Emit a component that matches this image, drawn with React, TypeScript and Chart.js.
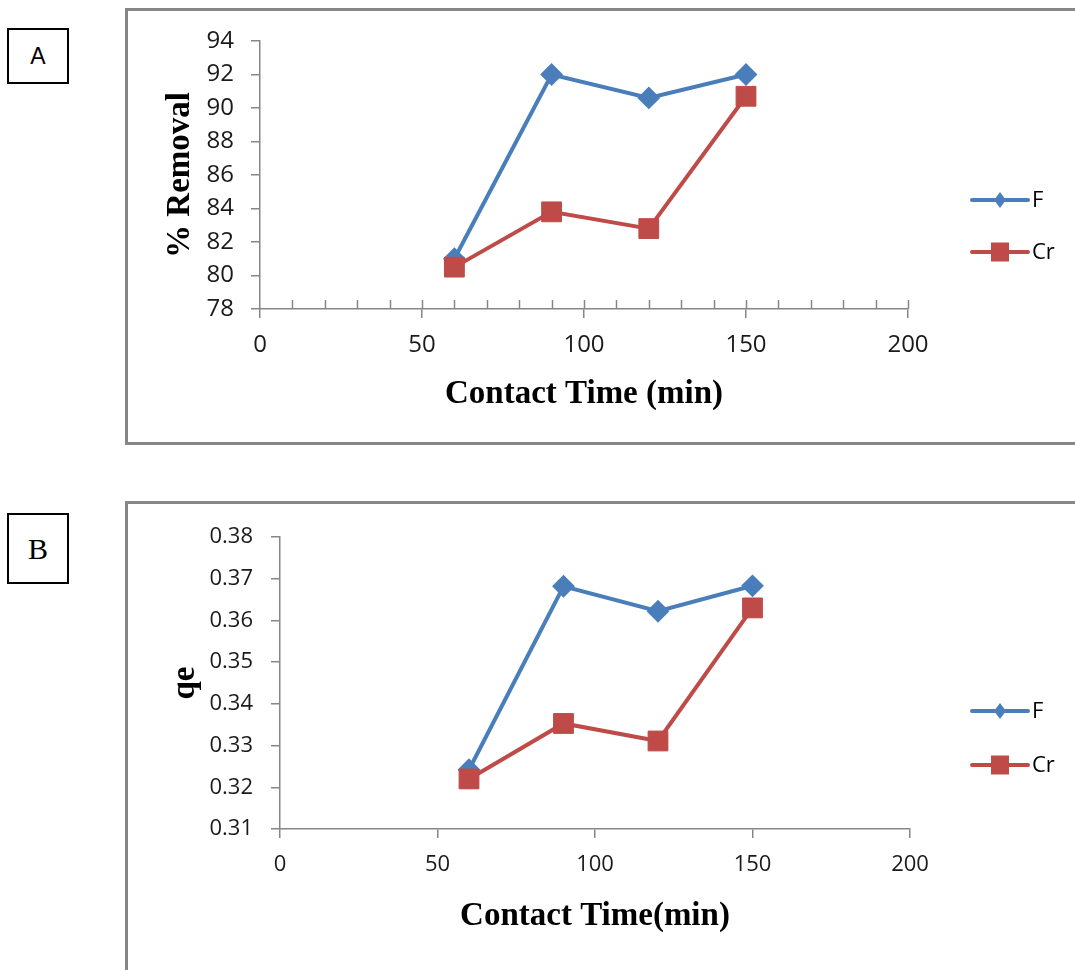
import React, { useEffect, useRef } from "react";
import { Chart, registerables } from "chart.js";

Chart.register(...registerables);

// ---------- data ----------
const contactTime = [60, 90, 120, 150];
const removalF = [81.0, 92.0, 90.6, 92.0];
const removalCr = [80.5, 83.8, 82.8, 90.7];
const qeF = [0.3242, 0.3682, 0.3622, 0.3683];
const qeCr = [0.322, 0.3353, 0.3311, 0.363];
const seriesNames = ["F", "Cr"];
const xTickValues = [0, 50, 100, 150, 200];
const removalTickValues = [78, 80, 82, 84, 86, 88, 90, 92, 94];
const qeTickValues = [0.31, 0.32, 0.33, 0.34, 0.35, 0.36, 0.37, 0.38];
const xTitleA = "Contact Time (min)";
const xTitleB = "Contact Time(min)";
const yTitleA = "% Removal";
const yTitleB = "qe";

const BLUE = "#4A7EBB";
const RED = "#BE4B48";
const AXIS = "#868686";

const minorTickPlugin = {
  id: "minorTicks",
  afterDraw(chart: any, _a: any, opts: any) {
    if (!opts || !opts.step) return;
    const x = chart.scales.x;
    const { ctx } = chart;
    const yb = chart.chartArea.bottom;
    ctx.save();
    ctx.strokeStyle = AXIS;
    ctx.lineWidth = 1.5;
    for (let v = x.min + opts.step; v <= x.max + 1e-9; v += opts.step) {
      const px = Math.round(x.getPixelForValue(v)) + 0.5;
      ctx.beginPath();
      ctx.moveTo(px, yb);
      ctx.lineTo(px, yb - opts.len);
      ctx.stroke();
    }
    ctx.restore();
  },
};

const sideLegendPlugin = {
  id: "sideLegend",
  afterDraw(chart: any, _a: any, opts: any) {
    if (!opts || !opts.ys) return;
    const { ctx } = chart;
    chart.data.datasets.forEach((ds: any, i: number) => {
      const y = opts.ys[i];
      const x0 = opts.x;
      const x1 = opts.x + opts.len;
      const cx = (x0 + x1) / 2;
      ctx.save();
      ctx.strokeStyle = ds.borderColor;
      ctx.lineWidth = 4;
      ctx.lineCap = "round";
      ctx.beginPath();
      ctx.moveTo(x0, y);
      ctx.lineTo(x1, y);
      ctx.stroke();
      ctx.fillStyle = ds.backgroundColor;
      ctx.beginPath();
      if (ds.pointStyle === "rectRot") {
        ctx.moveTo(cx, y - 8);
        ctx.lineTo(cx + 6, y);
        ctx.lineTo(cx, y + 8);
        ctx.lineTo(cx - 6, y);
        ctx.closePath();
      } else {
        ctx.rect(cx - 9, y - 9.5, 18, 19);
      }
      ctx.fill();
      ctx.fillStyle = "#000";
      ctx.font = opts.font;
      ctx.textBaseline = "middle";
      ctx.textAlign = "left";
      ctx.fillText(ds.label, x1 + 4, y + 1);
      ctx.restore();
    });
  },
};

function makeDatasets(fVals: number[], crVals: number[]) {
  return [
    {
      label: seriesNames[0],
      data: contactTime.map((t, i) => ({ x: t, y: fVals[i] })),
      borderColor: BLUE,
      backgroundColor: BLUE,
      pointBackgroundColor: BLUE,
      pointBorderColor: BLUE,
      pointStyle: "rectRot",
      pointRadius: 10,
      pointBorderWidth: 2,
      borderWidth: 4,
      tension: 0,
      order: 1,
    },
    {
      label: seriesNames[1],
      data: contactTime.map((t, i) => ({ x: t, y: crVals[i] })),
      borderColor: RED,
      backgroundColor: RED,
      pointBackgroundColor: RED,
      pointBorderColor: RED,
      pointStyle: "rect",
      pointRadius: 14,
      pointBorderWidth: 1,
      borderWidth: 4,
      tension: 0,
      order: 0,
    },
  ];
}

type Cfg = {
  w: number;
  h: number;
  left: number; // chart area left
  top: number;
  right: number;
  bottom: number;
  fVals: number[];
  crVals: number[];
  yTicks: number[];
  yDecimals: number;
  xTitle: string;
  yTitle: string;
  tickFont: number;
  xTickPad: number;
  yTickPad: number;
  xTitlePad: number;
  yTitlePad: number;
  minorStep: number;
  legendYs: number[];
};

function PanelChart({ cfg }: { cfg: Cfg }) {
  const ref = useRef<HTMLCanvasElement | null>(null);
  useEffect(() => {
    if (!ref.current) return;
    const yMin = cfg.yTicks[0];
    const yMax = cfg.yTicks[cfg.yTicks.length - 1];
    const chart = new Chart(ref.current, {
      type: "line",
      data: { datasets: makeDatasets(cfg.fVals, cfg.crVals) as any },
      plugins: [minorTickPlugin, sideLegendPlugin],
      options: {
        animation: false,
        responsive: false,
        devicePixelRatio: 1,
        layout: {
          padding: { left: 0, top: cfg.top, right: cfg.w - cfg.right, bottom: 0 },
        },
        plugins: {
          legend: { display: false },
          tooltip: { enabled: false },
          minorTicks: { step: cfg.minorStep, len: 9 },
          sideLegend: { x: 972, len: 56, ys: cfg.legendYs, font: "22px 'Open Sans'" },
        } as any,
        scales: {
          x: {
            type: "linear",
            min: 0,
            max: 200,
            afterBuildTicks: (s: any) => {
              s.ticks = xTickValues.map((v) => ({ value: v }));
            },
            afterFit: (s: any) => {
              s.height = cfg.h - cfg.bottom;
            },
            grid: {
              drawOnChartArea: false,
              drawTicks: true,
              tickLength: 9,
              color: AXIS,
              lineWidth: 1.5,
            },
            border: { display: true, color: AXIS, width: 1.5 },
            ticks: {
              padding: cfg.xTickPad,
              color: "#1a1a1a",
              font: { family: "'Open Sans'", size: cfg.tickFont },
              maxRotation: 0,
            },
            title: {
              display: true,
              text: cfg.xTitle,
              color: "#000",
              font: { family: "'Liberation Serif'", size: 33, weight: "bold" },
              padding: { top: 0, bottom: cfg.xTitlePad },
            },
          },
          y: {
            type: "linear",
            min: yMin,
            max: yMax,
            afterBuildTicks: (s: any) => {
              s.ticks = cfg.yTicks.map((v) => ({ value: v }));
            },
            afterFit: (s: any) => {
              s.width = cfg.left;
            },
            grid: {
              drawOnChartArea: false,
              drawTicks: true,
              tickLength: 9,
              color: AXIS,
              lineWidth: 1.5,
            },
            border: { display: true, color: AXIS, width: 1.5 },
            ticks: {
              padding: cfg.yTickPad,
              color: "#1a1a1a",
              font: { family: "'Open Sans'", size: cfg.tickFont },
              callback: (v: any) => Number(v).toFixed(cfg.yDecimals),
            },
            title: {
              display: true,
              text: cfg.yTitle,
              color: "#000",
              font: { family: "'Liberation Serif'", size: 33, weight: "bold" },
              padding: { top: cfg.yTitlePad, bottom: 0 },
            },
          },
        },
      } as any,
    });
    return () => chart.destroy();
  }, [cfg]);
  return (
    <canvas
      ref={ref}
      width={cfg.w}
      height={cfg.h}
      style={{ width: cfg.w, height: cfg.h, display: "block" }}
    />
  );
}

const cfgA: Cfg = {
  w: 1075,
  h: 470,
  left: 260,
  top: 41,
  right: 908,
  bottom: 309,
  fVals: removalF,
  crVals: removalCr,
  yTicks: removalTickValues,
  yDecimals: 0,
  xTitle: xTitleA,
  yTitle: yTitleA,
  tickFont: 24,
  xTickPad: 13,
  yTickPad: 17,
  xTitlePad: 56,
  yTitlePad: 161,
  minorStep: 10,
  legendYs: [200, 252],
};

const cfgB: Cfg = {
  w: 1075,
  h: 485,
  left: 280,
  top: 52,
  right: 910,
  bottom: 344,
  fVals: qeF,
  crVals: qeCr,
  yTicks: qeTickValues,
  yDecimals: 2,
  xTitle: xTitleB,
  yTitle: yTitleB,
  tickFont: 22,
  xTickPad: 14,
  yTickPad: 18,
  xTitlePad: 34,
  yTitlePad: 166,
  minorStep: 0,
  legendYs: [226, 280],
};

export default function App() {
  return (
    <div
      style={{
        position: "absolute",
        left: 0,
        top: 0,
        width: 1075,
        height: 970,
        overflow: "hidden",
        background: "#fff",
      }}
    >
      {/* panel frames */}
      <div
        style={{
          position: "absolute",
          left: 125,
          top: 8,
          width: 1100,
          height: 437,
          boxSizing: "border-box",
          border: `3px solid ${AXIS}`,
        }}
      />
      <div
        style={{
          position: "absolute",
          left: 125,
          top: 501,
          width: 1100,
          height: 600,
          boxSizing: "border-box",
          border: `3px solid ${AXIS}`,
        }}
      />
      {/* panel letters */}
      <div
        style={{
          position: "absolute",
          left: 7,
          top: 28,
          width: 62,
          height: 56,
          boxSizing: "border-box",
          border: "2px solid #000",
          display: "flex",
          alignItems: "center",
          justifyContent: "center",
          fontFamily: "'Liberation Sans', Arial, sans-serif",
          fontSize: 23,
          color: "#000",
        }}
      >
        A
      </div>
      <div
        style={{
          position: "absolute",
          left: 7,
          top: 513,
          width: 62,
          height: 71,
          boxSizing: "border-box",
          border: "2px solid #000",
          display: "flex",
          alignItems: "center",
          justifyContent: "center",
          fontFamily: "'Liberation Serif', 'Times New Roman', serif",
          fontSize: 30,
          color: "#000",
        }}
      >
        B
      </div>
      <div style={{ position: "absolute", left: 0, top: 0 }}>
        <PanelChart cfg={cfgA} />
      </div>
      <div style={{ position: "absolute", left: 0, top: 485 }}>
        <PanelChart cfg={cfgB} />
      </div>
    </div>
  );
}
